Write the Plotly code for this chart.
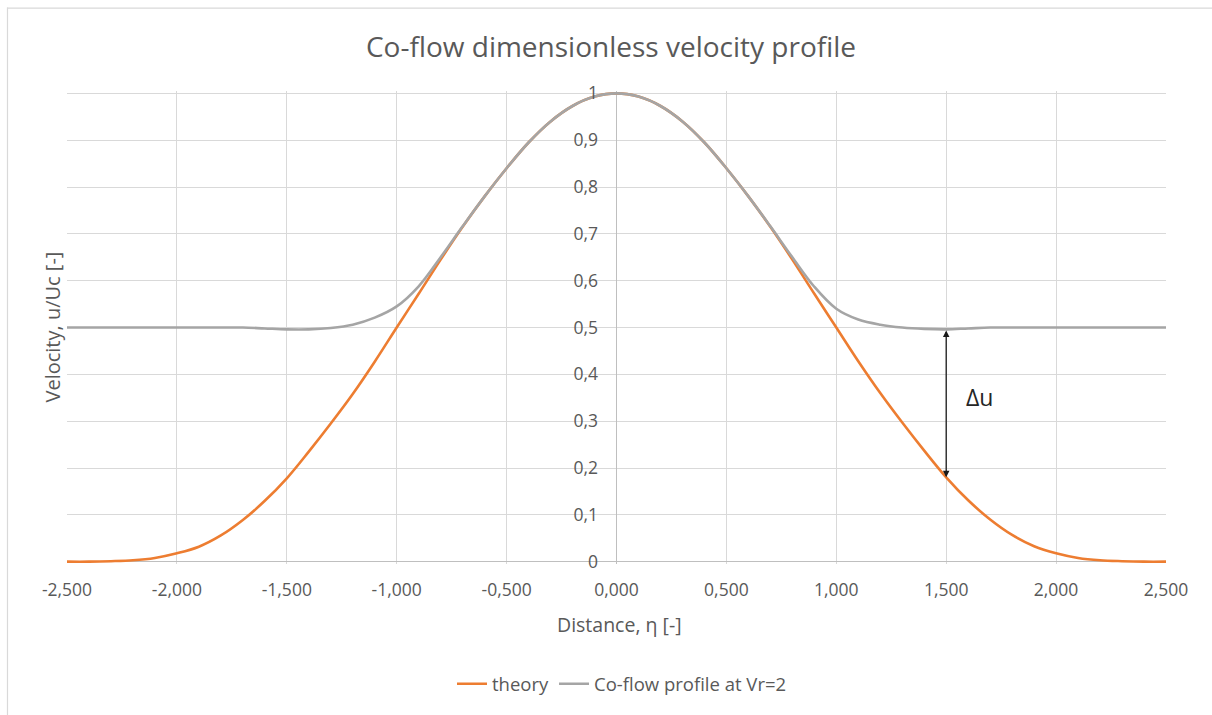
import plotly.graph_objects as go

# ---------------- data ----------------
eta = [-2.5, -2.4, -2.3, -2.2, -2.1, -2.0, -1.9, -1.8, -1.7, -1.6,
       -1.5, -1.4, -1.3, -1.2, -1.1, -1.0, -0.9, -0.8, -0.7, -0.6,
       -0.5, -0.4, -0.3, -0.2, -0.1, 0.0, 0.1, 0.2, 0.3, 0.4,
       0.5, 0.6, 0.7, 0.8, 0.9, 1.0, 1.1, 1.2, 1.3, 1.4,
       1.5, 1.6, 1.7, 1.8, 1.9, 2.0, 2.1, 2.2, 2.3, 2.4, 2.5]

theory = [0.000, 0.000, 0.001, 0.003, 0.008, 0.018, 0.032, 0.056, 0.089, 0.130,
          0.178, 0.235, 0.295, 0.358, 0.427, 0.500, 0.572, 0.645, 0.715, 0.780,
          0.840, 0.895, 0.940, 0.973, 0.993, 1.000, 0.993, 0.973, 0.940, 0.895,
          0.840, 0.780, 0.715, 0.645, 0.572, 0.500, 0.428, 0.360, 0.297, 0.237,
          0.180, 0.131, 0.090, 0.057, 0.033, 0.018, 0.008, 0.003, 0.001, 0.000, 0.000]

coflow = [0.500, 0.500, 0.500, 0.500, 0.500, 0.500, 0.500, 0.500, 0.500, 0.498,
          0.496, 0.496, 0.499, 0.506, 0.521, 0.545, 0.588, 0.650, 0.716, 0.780,
          0.840, 0.895, 0.940, 0.973, 0.993, 1.000, 0.993, 0.973, 0.940, 0.895,
          0.840, 0.780, 0.716, 0.650, 0.587, 0.540, 0.517, 0.506, 0.500, 0.497,
          0.496, 0.498, 0.500, 0.500, 0.500, 0.500, 0.500, 0.500, 0.500, 0.500, 0.500]

x_tick_vals = [-2.5, -2.0, -1.5, -1.0, -0.5, 0.0, 0.5, 1.0, 1.5, 2.0, 2.5]
x_tick_text = ["-2,500", "-2,000", "-1,500", "-1,000", "-0,500", "0,000",
               "0,500", "1,000", "1,500", "2,000", "2,500"]
y_tick_vals = [0.0, 0.1, 0.2, 0.3, 0.4, 0.5, 0.6, 0.7, 0.8, 0.9, 1.0]
y_tick_text = ["0", "0,1", "0,2", "0,3", "0,4", "0,5", "0,6", "0,7", "0,8", "0,9", "1"]

delta_u_eta = 1.5
delta_u_low = 0.180
delta_u_high = 0.497

# ---------------- layout geometry ----------------
W, H = 1212, 715
ML, MR, MT, MB = 67, 46, 91, 148
PW, PH = W - ML - MR, H - MT - MB


def paper_x(px):
    return (px - ML) / PW


def paper_y(py):
    return (H - MB - py) / PH


FONT = "Open Sans, Liberation Sans, sans-serif"
TXT = "#595959"
GRID = "#D9D9D9"
AXIS = "#BFBFBF"

fig = go.Figure()
fig.add_trace(go.Scatter(x=eta, y=theory, mode="lines", name="theory",
                         line=dict(color="#ED7D31", width=2.6, shape="spline", smoothing=1.0)))
fig.add_trace(go.Scatter(x=eta, y=coflow, mode="lines", name="Co-flow profile at Vr=2",
                         line=dict(color="#A5A5A5", width=2.6, shape="spline", smoothing=1.0)))

fig.update_layout(
    template="none",
    width=W, height=H,
    margin=dict(l=ML, r=MR, t=MT, b=MB, pad=0),
    paper_bgcolor="white", plot_bgcolor="white",
    font=dict(family=FONT, color=TXT, size=17),
    title=dict(text="Co-flow dimensionless velocity profile", x=611 / W, xanchor="center",
               y=1 - 47 / H, yanchor="middle", font=dict(size=28, color=TXT, family=FONT)),
    showlegend=True,
    legend=dict(orientation="h", x=paper_x(622), xanchor="center", y=paper_y(688),
                yanchor="middle", font=dict(size=18.5, color=TXT), bgcolor="rgba(0,0,0,0)",
                itemwidth=30),
    xaxis=dict(range=[-2.5, 2.5], tickvals=x_tick_vals, ticktext=x_tick_text,
               showgrid=True, gridcolor=GRID, gridwidth=1,
               zeroline=True, zerolinecolor=AXIS, zerolinewidth=1.3,
               showline=False, ticks="outside", ticklen=10, tickcolor="rgba(0,0,0,0)",
               tickfont=dict(size=17.5, color=TXT), automargin=False, fixedrange=True),
    yaxis=dict(range=[-0.005, 1.005], tickvals=y_tick_vals, ticktext=y_tick_text,
               anchor="free", position=0.5,
               showgrid=True, gridcolor=GRID, gridwidth=1,
               zeroline=True, zerolinecolor=AXIS, zerolinewidth=1.3,
               showline=False, ticks="outside", ticklen=15, tickcolor="rgba(0,0,0,0)",
               tickfont=dict(size=17.5, color=TXT), automargin=False, fixedrange=True),
)

# axis titles
fig.add_annotation(text="Distance, η [-]", xref="paper", yref="paper",
                   x=paper_x(619), y=paper_y(628), xanchor="center", yanchor="middle",
                   showarrow=False, font=dict(size=19.5, color=TXT, family=FONT))
fig.add_annotation(text="Velocity, u/Uc [-]", xref="paper", yref="paper",
                   x=paper_x(52), y=paper_y(329), xanchor="center", yanchor="middle",
                   textangle=-90, showarrow=False, font=dict(size=20, color=TXT, family=FONT))

# delta-u arrow and label
fig.add_annotation(x=delta_u_eta, y=delta_u_low, ax=delta_u_eta, ay=delta_u_high,
                   xref="x", yref="y", axref="x", ayref="y", text="",
                   showarrow=True, arrowhead=2, startarrowhead=2, arrowside="end+start",
                   arrowsize=1, startarrowsize=1, arrowwidth=1.3, arrowcolor="#1a1a1a",
                   standoff=0, startstandoff=0)
fig.add_annotation(x=1.65, y=0.351, xref="x", yref="y", text="Δu", showarrow=False,
                   xanchor="center", yanchor="middle",
                   font=dict(size=23, color="#262626", family=FONT))

# chart frame (top and left edges visible)
fig.add_shape(type="line", xref="paper", yref="paper",
              x0=paper_x(7), x1=paper_x(W + 5), y0=paper_y(7.5), y1=paper_y(7.5),
              line=dict(color=GRID, width=1.2))
fig.add_shape(type="line", xref="paper", yref="paper",
              x0=paper_x(7.5), x1=paper_x(7.5), y0=paper_y(7), y1=paper_y(H + 5),
              line=dict(color=GRID, width=1.2))

fig.write_html("out.html", config={"displayModeBar": False})
